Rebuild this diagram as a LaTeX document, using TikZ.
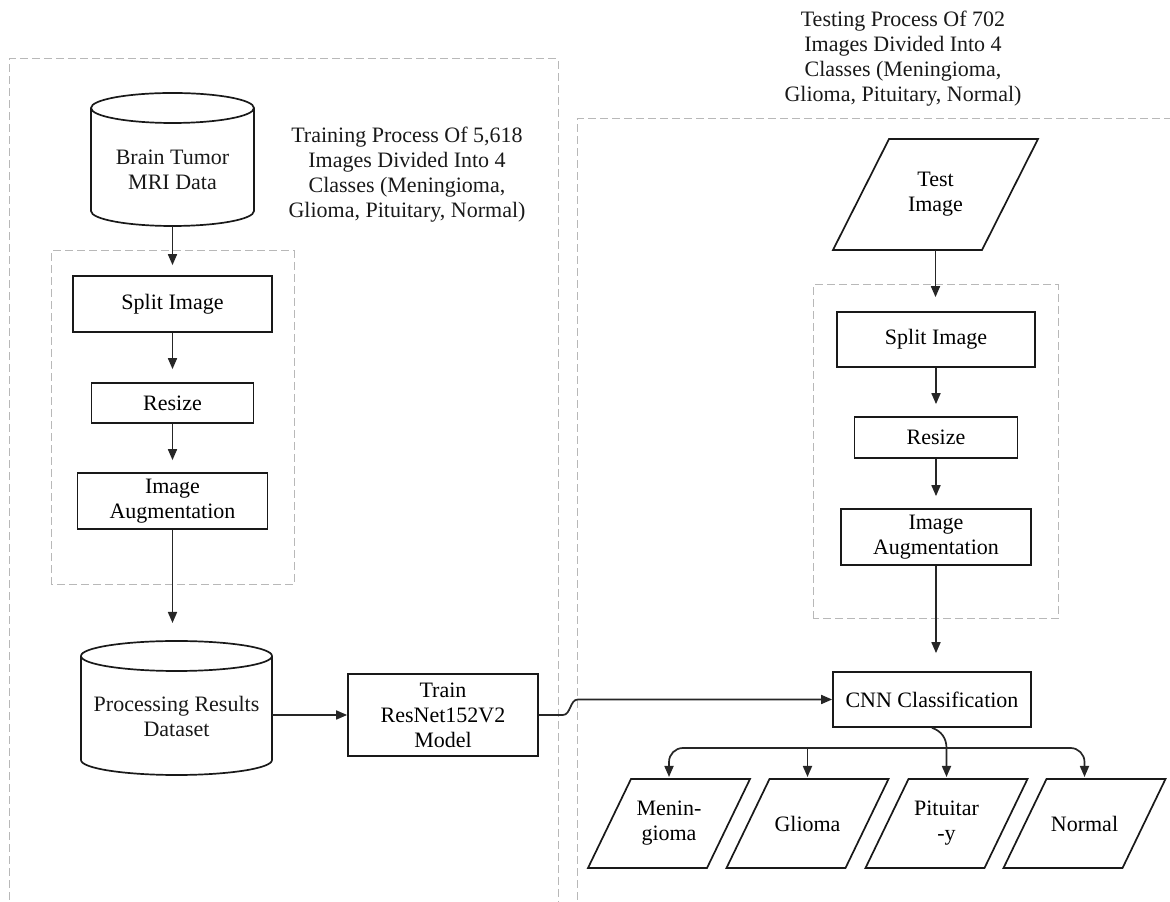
\documentclass[tikz,border=0pt]{standalone}
\usepackage{fontspec}
\setmainfont{Liberation Serif}
\usetikzlibrary{arrows.meta,calc}
\newcommand\fsz{\fontsize{22}{25}\selectfont}
\newcommand\dbdraw[2]{%
  \draw[shp] ($(#1.north west)+(0,-15)$) arc[start angle=180,end angle=0,x radius=#2,y radius=15]
     -- ($(#1.south east)+(0,15)$) arc[start angle=0,end angle=-180,x radius=#2,y radius=15] -- cycle;
  \draw[shp] ($(#1.north west)+(0,-15)$) arc[start angle=180,end angle=360,x radius=#2,y radius=15];}
\newcommand\paradraw[2]{%
  \draw[shp] (#1.south west) -- ($(#1.south east)+(-#2,0)$) -- (#1.north east) -- ($(#1.north west)+(#2,0)$) -- cycle;}
\begin{document}
\begin{tikzpicture}[x=1pt,y=1pt,
  shp/.style={draw=black!90, line width=1.7pt, line join=miter},
  box/.style={shp, fill=white, align=center, font=\fsz, text=black, inner sep=2pt},
  ghost/.style={inner sep=0pt, outer sep=0pt, align=center, font=\fsz, text=black},
  txt/.style={inner sep=0pt, align=center, font=\fsz, text=black!90},
  outer/.style={draw=black!28, line width=1pt, dash pattern=on 8pt off 4pt},
  ln/.style={draw=black!85, line width=1.7pt},
  arr/.style={ln, -{Triangle[length=11pt,width=9pt]}},
  varr/.style={arr, shorten >=11pt}]
\useasboundingbox (0,0) rectangle (1170,902);
\clip (0,0) rectangle (1170,902);

% group frames
\draw[outer] (9,-10) rectangle (558,843);
\draw[outer] (577,-10) rectangle (1190,783);
\draw[outer] (51,317) rectangle (294,651);
\draw[outer] (813,283) rectangle (1058,617);

% titles
\node[txt] (traintitle) at (407,727) {Training Process Of 5,618\\Images Divided Into 4\\Classes (Meningioma,\\Glioma, Pituitary, Normal)};
\node[txt] (testtitle) at (903,843.5) {Testing Process Of 702\\Images Divided Into 4\\Classes (Meningioma,\\Glioma, Pituitary, Normal)};

% training column
\node[ghost, minimum width=163, minimum height=133] (brain) at (172.5,742.5) {};
\dbdraw{brain}{81.5}
\node[txt] (braintxt) at (172.5,732.5) {Brain Tumor\\MRI Data};

\node[box, minimum width=199, minimum height=56] (split1) at (172.5,598) {Split Image};
\node[box, minimum width=162, minimum height=40] (res1) at (172.5,499) {Resize};
\node[box, minimum width=190, minimum height=56] (aug1) at (172.5,401) {Image\\Augmentation};

\node[ghost, minimum width=191, minimum height=134] (proc) at (176.5,194) {};
\dbdraw{proc}{95.5}
\node[txt] (proctxt) at (176.5,186) {Processing Results\\Dataset};

\node[box, minimum width=190, minimum height=82] (train) at (443,187) {Train\\ResNet152V2\\Model};

% testing column
\node[ghost, minimum width=205, minimum height=111] (test) at (935.5,707.5) {Test\\Image};
\paradraw{test}{56}
\node[box, minimum width=198, minimum height=55] (split2) at (936,562.5) {Split Image};
\node[box, minimum width=163, minimum height=41] (res2) at (936,464.5) {Resize};
\node[box, minimum width=190, minimum height=56] (aug2) at (936,365) {Image\\Augmentation};
\node[box, minimum width=198, minimum height=55] (cnn) at (932,202.5) {CNN Classification};

% outputs
\begin{scope}[every node/.append style={font=\fontsize{22}{27}\selectfont}]
\node[ghost, minimum width=162, minimum height=89] (men) at (669,78.5) {Menin-\\gioma};
\node[ghost, minimum width=162, minimum height=89] (glio) at (807.5,78.5) {Glioma};
\node[ghost, minimum width=162, minimum height=89] (pit) at (946.5,78.5) {Pituitar\\-y};
\node[ghost, minimum width=162, minimum height=89] (nor) at (1084.5,78.5) {Normal};
\end{scope}
\paradraw{men}{43}
\paradraw{glio}{43}
\paradraw{pit}{43}
\paradraw{nor}{43}

% connectors, training
\draw[varr, shorten >=10pt] (brain.south) -- (brain.south |- split1.north);
\draw[varr, shorten >=13pt] (split1.south) -- (split1.south |- res1.north);
\draw[varr, shorten >=12pt] (res1.south) -- (res1.south |- aug1.north);
\draw[varr, shorten >=18pt] (aug1.south) -- (aug1.south |- proc.north);
\draw[arr] (proc.east |- train.west) -- (train.west);

% connectors, testing
\draw[varr, shorten >=14pt] (test.south) -- (test.south |- split2.north);
\draw[varr, shorten >=12pt] (split2.south) -- (split2.south |- res2.north);
\draw[varr, shorten >=12pt] (res2.south) -- (res2.south |- aug2.north);
\draw[varr, shorten >=18pt] (aug2.south) -- (aug2.south |- cnn.north);

% train -> cnn with jump
\coordinate (jumpA) at ($(train.east)+(24,0)$);
\path ($(train.east)+(39,0)$) coordinate (jx);
\coordinate (jumpB) at (jx |- cnn.west);
\draw[arr] (train.east) -- (jumpA) .. controls +(8,0) and +(-8,0) .. (jumpB) -- (cnn.west);

% cnn -> outputs
\path (pit.north) ++(0,31) coordinate (bus);
\draw[arr, shorten >=2pt] (cnn.south) .. controls +(9,-3) and +(0,10) .. (bus) -- (pit.north);
\draw[arr, shorten >=2pt, rounded corners=14pt] (bus) -| (men.north);
\draw[arr, shorten >=2pt, rounded corners=14pt] (bus) -| (nor.north);
\draw[arr, shorten >=2pt] (glio.north |- bus) -- (glio.north);
\end{tikzpicture}
\end{document}
